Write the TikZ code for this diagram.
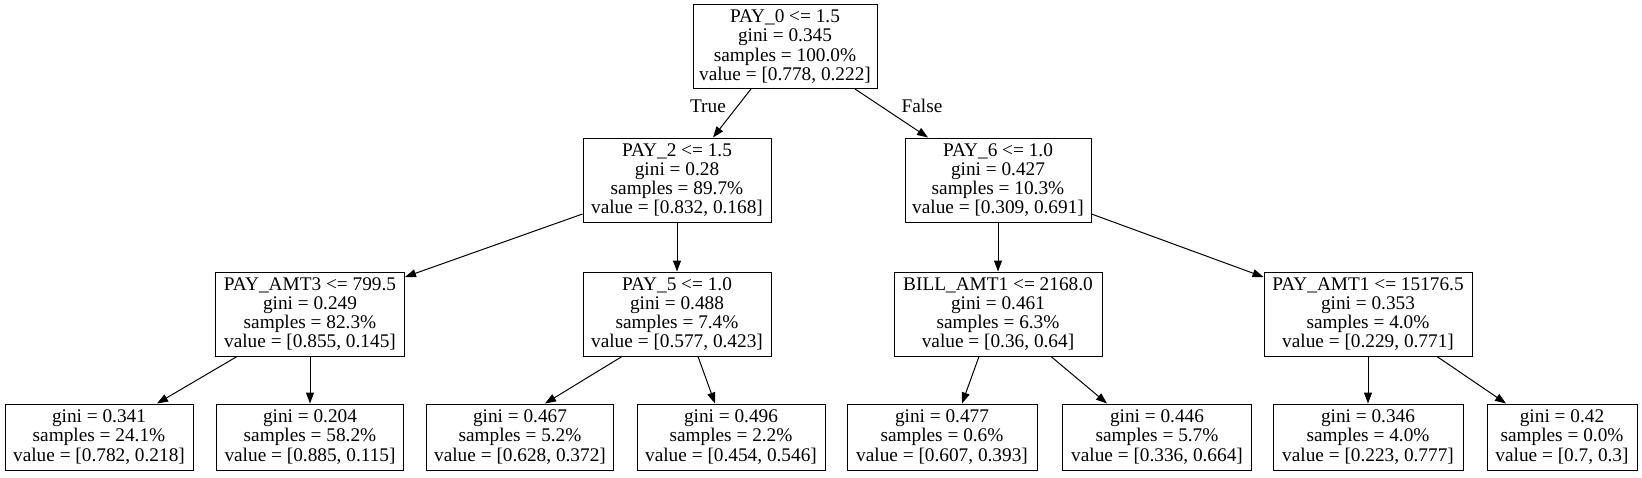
\documentclass[tikz,border=0pt]{standalone}
\usepackage{fontspec}
\setmainfont{Liberation Serif}
\usetikzlibrary{arrows.meta,calc}
\begin{document}
\begin{tikzpicture}[x=1pt,y=-1pt,
  box/.style={draw, line width=1pt, rectangle, align=center, inner sep=0pt,
    font=\fontsize{19.3}{19.2}\selectfont},
  split/.style={box, minimum height=84pt},
  leaf/.style={box, minimum height=66pt},
  conn/.style={line width=1pt, -{Triangle[length=11pt,width=8pt]}},
  lbl/.style={font=\fontsize{19.3}{19.2}\selectfont, inner sep=0pt}]
\useasboundingbox (0,0) rectangle (1642,477);
\fill[white] (0,0) rectangle (1642,477);
% internal nodes
\node[split, minimum width=184pt] (root) at (785,46.5) {PAY\_0 <= 1.5\\gini = 0.345\\samples = 100.0\%\\value = [0.778, 0.222]};
\node[split, minimum width=188pt] (pay2) at (677,180) {PAY\_2 <= 1.5\\gini = 0.28\\samples = 89.7\%\\value = [0.832, 0.168]};
\node[split, minimum width=186pt] (pay6) at (998,180) {PAY\_6 <= 1.0\\gini = 0.427\\samples = 10.3\%\\value = [0.309, 0.691]};
\node[split, minimum width=189pt] (pamt3) at (310,314) {PAY\_AMT3 <= 799.5\\gini = 0.249\\samples = 82.3\%\\value = [0.855, 0.145]};
\node[split, minimum width=188pt] (pay5) at (677,314) {PAY\_5 <= 1.0\\gini = 0.488\\samples = 7.4\%\\value = [0.577, 0.423]};
\node[split, minimum width=208pt] (bill1) at (998,314) {BILL\_AMT1 <= 2168.0\\gini = 0.461\\samples = 6.3\%\\value = [0.36, 0.64]};
\node[split, minimum width=208pt] (pamt1) at (1368,314) {PAY\_AMT1 <= 15176.5\\gini = 0.353\\samples = 4.0\%\\value = [0.229, 0.771]};
% leaves
\node[leaf, minimum width=188pt] (l1) at (99,437) {gini = 0.341\\samples = 24.1\%\\value = [0.782, 0.218]};
\node[leaf, minimum width=187pt] (l2) at (310,437) {gini = 0.204\\samples = 58.2\%\\value = [0.885, 0.115]};
\node[leaf, minimum width=187pt] (l3) at (520,437) {gini = 0.467\\samples = 5.2\%\\value = [0.628, 0.372]};
\node[leaf, minimum width=188pt] (l4) at (731,437) {gini = 0.496\\samples = 2.2\%\\value = [0.454, 0.546]};
\node[leaf, minimum width=190pt] (l5) at (942,437) {gini = 0.477\\samples = 0.6\%\\value = [0.607, 0.393]};
\node[leaf, minimum width=189pt] (l6) at (1157,437) {gini = 0.446\\samples = 5.7\%\\value = [0.336, 0.664]};
\node[leaf, minimum width=190pt] (l7) at (1368,437) {gini = 0.346\\samples = 4.0\%\\value = [0.223, 0.777]};
\node[leaf, minimum width=150pt] (l8) at (1562,437) {gini = 0.42\\samples = 0.0\%\\value = [0.7, 0.3]};
% edge labels
\node[lbl] (tlbl) at (708,106) {True};
\node[lbl] (flbl) at (922,106) {False};
% connectors
\draw[conn] ($(root.south)+(-34,0)$) -- ($(pay2.north)+(36,0)$);
\draw[conn] ($(root.south)+(70,0)$) -- ($(pay6.north)+(-70,0)$);
\draw[conn] ($(pay2.west)+(0,34)$) -- ($(pamt3.east)+(0,-37)$);
\draw[conn] (pay2.south) -- (pay5.north);
\draw[conn] (pay6.south) -- (bill1.north);
\draw[conn] ($(pay6.east)+(0,34)$) -- ($(pamt1.west)+(0,-37)$);
\draw[conn] ($(pamt3.south)+(-73,0)$) -- ($(l1.north)+(58,0)$);
\draw[conn] (pamt3.south) -- (l2.north);
\draw[conn] ($(pay5.south)+(-55,0)$) -- ($(l3.north)+(25,0)$);
\draw[conn] ($(pay5.south)+(21,0)$) -- ($(l4.north)+(-16,0)$);
\draw[conn] ($(bill1.south)+(-19,0)$) -- ($(l5.north)+(20,0)$);
\draw[conn] ($(bill1.south)+(53,0)$) -- ($(l6.north)+(-50,0)$);
\draw[conn] (pamt1.south) -- (l7.north);
\draw[conn] ($(pamt1.south)+(69,0)$) -- ($(l8.north)+(-56,0)$);
\end{tikzpicture}
\end{document}
